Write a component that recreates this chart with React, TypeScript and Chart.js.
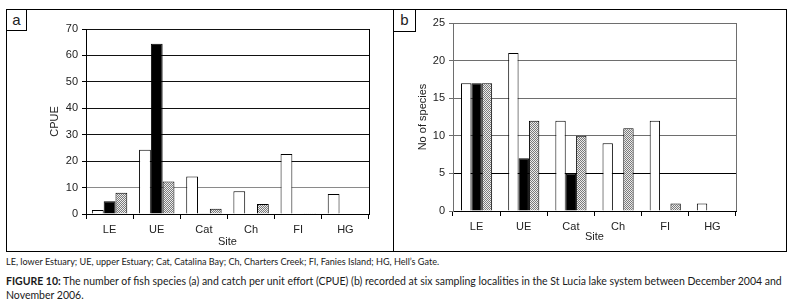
import React, { useEffect, useRef } from "react";
import { Chart, registerables } from "chart.js";

Chart.register(...registerables);

// ---- data ----
const sites = ["LE", "UE", "Cat", "Ch", "FI", "HG"];

// panel a: CPUE
const cpueWhite = [1.5, 24.3, 14.2, 8.6, 22.7, 7.6];
const cpueBlack = [4.8, 64.4, 0.3, 0, 0, 0];
const cpueHatched = [8.0, 12.3, 2.0, 3.8, 0.3, 0];
const cpueTicks = [0, 10, 20, 30, 40, 50, 60, 70];

// panel b: number of species
const spWhite = [17, 21, 12, 9, 12, 1];
const spBlack = [17, 7, 5, 0, 0, 0];
const spHatched = [17, 12, 10, 11, 1, 0];
const spTicks = [0, 5, 10, 15, 20, 25];

const legendLine =
  "LE, lower Estuary; UE, upper Estuary; Cat, Catalina Bay; Ch, Charters Creek; FI, Fanies Island; HG, Hell\u2019s Gate.";
const captionBold = "FIGURE 10:";
const captionLine1 =
  " The number of fish species (a) and catch per unit effort (CPUE) (b) recorded at six sampling localities in the St Lucia lake system between December 2004 and";
const captionLine2 = "November 2006.";

const FONT = "'Liberation Sans', Arial, sans-serif";

function makePattern(): CanvasPattern | string {
  const c = document.createElement("canvas");
  c.width = 4;
  c.height = 4;
  const g = c.getContext("2d");
  if (!g) return "#b8b8b8";
  g.fillStyle = "#ececec";
  g.fillRect(0, 0, 4, 4);
  g.fillStyle = "#7a7a7a";
  const pts = [
    [0, 0], [2, 0], [1, 1], [3, 1], [0, 2], [2, 2], [1, 3], [3, 3],
  ];
  pts.forEach(([x, y]) => g.fillRect(x, y, 1, 1));
  const p = g.createPattern(c, "repeat");
  return p || "#b8b8b8";
}

const framePlugin = {
  id: "frame",
  afterDraw(chart: any, _args: any, opts: any) {
    const { ctx, chartArea } = chart;
    const x = Math.round(chartArea.right) + 0.5;
    ctx.save();
    ctx.strokeStyle = opts.color || "#000";
    ctx.lineWidth = 1;
    ctx.beginPath();
    ctx.moveTo(x, chartArea.top);
    ctx.lineTo(x, chartArea.bottom);
    ctx.stroke();
    ctx.restore();
  },
};

type Geo = {
  padLeft: number;
  padRight: number;
  padTop: number;
  yWidth: number;
  xHeight: number;
  catPct: number;
  xTitlePadBottom: number;
};

function buildConfig(
  white: number[],
  black: number[],
  hatched: number[],
  ticks: number[],
  yTitle: string,
  geo: Geo,
  gridColor: (v: number) => string,
  axisColor: string,
  frameColor: string
): any {
  const pattern = makePattern();
  const common = {
    borderColor: "#000",
    borderWidth: 1,
    barPercentage: 1,
    categoryPercentage: geo.catPct,
  };
  return {
    type: "bar",
    data: {
      labels: sites,
      datasets: [
        { ...common, label: "white", data: white, backgroundColor: "#ffffff" },
        { ...common, label: "black", data: black, backgroundColor: "#000000" },
        { ...common, label: "hatched", data: hatched, backgroundColor: pattern },
      ],
    },
    plugins: [framePlugin],
    options: {
      responsive: false,
      animation: false,
      devicePixelRatio: 1,
      layout: {
        padding: { left: geo.padLeft, right: geo.padRight, top: geo.padTop, bottom: 0 },
      },
      plugins: {
        legend: { display: false },
        tooltip: { enabled: false },
        frame: { color: frameColor },
      },
      scales: {
        x: {
          offset: true,
          grid: {
            offset: true,
            drawOnChartArea: false,
            drawTicks: true,
            tickLength: 5,
            color: "#000",
            tickColor: "#000",
          },
          border: { display: true, color: "#000", width: 1 },
          ticks: { color: "#222", font: { family: FONT, size: 11 }, padding: 4 },
          title: {
            display: true,
            text: "Site",
            color: "#222",
            font: { family: FONT, size: 11 },
            padding: { top: 0, bottom: geo.xTitlePadBottom },
          },
          afterFit: (s: any) => {
            s.height = geo.xHeight;
          },
        },
        y: {
          min: ticks[0],
          max: ticks[ticks.length - 1],
          afterBuildTicks: (s: any) => {
            s.ticks = ticks.map((v) => ({ value: v }));
          },
          grid: {
            drawTicks: true,
            tickLength: 4,
            color: (ctx: any) => (ctx.tick ? gridColor(ctx.tick.value) : "#000"),
            tickColor: axisColor,
          },
          border: { display: true, color: axisColor, width: 1 },
          ticks: { color: "#222", font: { family: FONT, size: 11 }, padding: 4 },
          title: {
            display: true,
            text: yTitle,
            color: "#222",
            font: { family: FONT, size: 11 },
            padding: { top: 0, bottom: 0 },
          },
          afterFit: (s: any) => {
            s.width = geo.yWidth;
          },
        },
      },
    },
  };
}

function BarPanel(props: {
  left: number;
  top: number;
  width: number;
  height: number;
  config: () => any;
}) {
  const ref = useRef<HTMLCanvasElement | null>(null);
  useEffect(() => {
    if (!ref.current) return;
    const chart = new Chart(ref.current, props.config());
    return () => chart.destroy();
  }, []);
  return (
    <canvas
      ref={ref}
      width={props.width}
      height={props.height}
      style={{
        position: "absolute",
        left: props.left,
        top: props.top,
        width: props.width,
        height: props.height,
      }}
    />
  );
}

export default function App() {
  const configA = () =>
    buildConfig(
      cpueWhite,
      cpueBlack,
      cpueHatched,
      cpueTicks,
      "CPUE",
      { padLeft: 41, padRight: 23, padTop: 19, yWidth: 38, xHeight: 36, catPct: 0.75, xTitlePadBottom: 1 },
      (v) => (v === 10 ? "#8a8a8a" : "#111"),
      "#000",
      "#000"
    );
  const configB = () =>
    buildConfig(
      spWhite,
      spBlack,
      spHatched,
      spTicks,
      "No of species",
      { padLeft: 22, padRight: 49, padTop: 13, yWidth: 37, xHeight: 39, catPct: 0.66, xTitlePadBottom: 6 },
      (v) => (v === 5 || v === 0 ? "#000" : "#6e6e6e"),
      "#6e6e6e",
      "#6e6e6e"
    );

  const capFont = "Lato, 'Open Sans', sans-serif";

  return (
    <div
      style={{
        position: "absolute",
        left: 0,
        top: 0,
        width: 800,
        height: 304,
        background: "#fff",
        overflow: "hidden",
      }}
    >
      {/* outer frame */}
      <div
        style={{
          position: "absolute",
          left: 6,
          top: 9,
          width: 779,
          height: 241,
          border: "1px solid #000",
        }}
      />
      {/* divider */}
      <div style={{ position: "absolute", left: 393, top: 9, width: 1, height: 242, background: "#000" }} />
      {/* label boxes */}
      <div
        style={{
          position: "absolute",
          left: 6,
          top: 9,
          width: 21,
          height: 22,
          border: "1px solid #000",
          boxSizing: "border-box",
          font: `15px ${FONT}`,
          color: "#222",
          lineHeight: "19px",
          textAlign: "center",
        }}
      >
        a
      </div>
      <div
        style={{
          position: "absolute",
          left: 393,
          top: 9,
          width: 23,
          height: 23,
          border: "1px solid #000",
          boxSizing: "border-box",
          font: `15px ${FONT}`,
          color: "#222",
          lineHeight: "19px",
          textAlign: "center",
        }}
      >
        b
      </div>

      <BarPanel left={7} top={10} width={385} height={240} config={configA} />
      <BarPanel left={394} top={10} width={391} height={240} config={configB} />

      <div
        style={{
          position: "absolute",
          left: 6,
          top: 256,
          whiteSpace: "nowrap",
          font: `9.1px ${capFont}`,
          lineHeight: "12px",
          color: "#1a1a1a",
        }}
      >
        {legendLine}
      </div>
      <div
        style={{
          position: "absolute",
          left: 6,
          top: 274,
          whiteSpace: "nowrap",
          font: `10.5px ${capFont}`,
          lineHeight: "14px",
          color: "#1a1a1a",
        }}
      >
        <b>{captionBold}</b>
        {captionLine1}
        <br />
        {captionLine2}
      </div>
    </div>
  );
}
